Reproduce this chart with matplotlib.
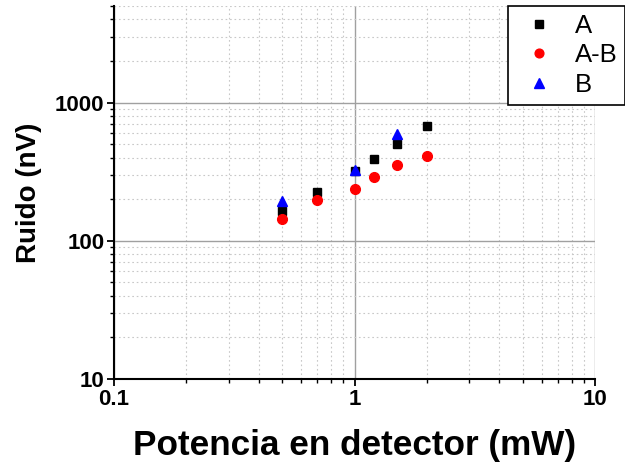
import matplotlib
matplotlib.use("Agg")
import matplotlib.pyplot as plt
from matplotlib.ticker import LogLocator, FixedLocator, FixedFormatter, NullFormatter

plt.rcParams['font.family'] = ['Liberation Sans', 'DejaVu Sans']

# Detector power (mW) and measured noise (nV) for each configuration
power_a = [0.5, 0.7, 1.0, 1.2, 1.5, 2.0]
noise_a = [163, 225, 318, 393, 502, 673]

power_ab = [0.5, 0.7, 1.0, 1.2, 1.5, 2.0]
noise_ab = [144, 198, 237, 291, 354, 413]

power_b = [0.5, 1.0, 1.5]
noise_b = [195, 323, 593]

x_ticks = [0.1, 1, 10]
x_ticklabels = ["0.1", "1", "10"]
y_ticks = [10, 100, 1000]
y_ticklabels = ["10", "100", "1000"]

fig = plt.figure(figsize=(6.25, 4.65), dpi=100)
ax = fig.add_axes([114 / 625, 1 - 379 / 465, (595 - 114) / 625, (379 - 6) / 465])

ax.set_xscale('log')
ax.set_yscale('log')
ax.set_xlim(0.1, 10)
ax.set_ylim(10, 5000)

ax.plot(power_a, noise_a, linestyle='none', marker='s', color='black',
        markersize=6, label='A', zorder=3)
ax.plot(power_ab, noise_ab, linestyle='none', marker='o', color='#ff0000',
        markersize=7, label='A-B', zorder=3)
ax.plot(power_b, noise_b, linestyle='none', marker='^', color='#0000ff',
        markersize=7.5, label='B', zorder=3)

ax.xaxis.set_major_locator(FixedLocator(x_ticks))
ax.xaxis.set_major_formatter(FixedFormatter(x_ticklabels))
ax.yaxis.set_major_locator(FixedLocator(y_ticks))
ax.yaxis.set_major_formatter(FixedFormatter(y_ticklabels))
ax.xaxis.set_minor_locator(LogLocator(base=10, subs=range(2, 10), numticks=20))
ax.yaxis.set_minor_locator(LogLocator(base=10, subs=range(2, 10), numticks=20))
ax.xaxis.set_minor_formatter(NullFormatter())
ax.yaxis.set_minor_formatter(NullFormatter())

ax.grid(which='major', color='#a0a0a0', linestyle='-', linewidth=1.0, zorder=1)
ax.grid(which='minor', color='#c8c8c8', linestyle=(0, (1.5, 2.5)), linewidth=0.8, zorder=1)
ax.set_axisbelow(True)

for side in ('top', 'right'):
    ax.spines[side].set_visible(False)
for side in ('left', 'bottom'):
    ax.spines[side].set_linewidth(1.5)
    ax.spines[side].set_color('black')

ax.tick_params(which='major', direction='out', length=5, width=1.3, labelsize=16, pad=2)
ax.tick_params(which='minor', direction='out', length=3, width=1.0)
for lbl in ax.get_xticklabels() + ax.get_yticklabels():
    lbl.set_fontweight('bold')

ax.set_xlabel('Potencia en detector (mW)', fontsize=25.3, fontweight='bold', labelpad=14)
ax.set_ylabel('Ruido (nV)', fontsize=20, fontweight='bold', labelpad=9)

leg = ax.legend(loc='upper left', bbox_to_anchor=(508 / 625, 1 - 6 / 465),
                bbox_transform=fig.transFigure, fontsize=18.5, frameon=True,
                fancybox=False, edgecolor='black', framealpha=1,
                handlelength=1.8, handletextpad=0.5, borderpad=0.3,
                labelspacing=0.22, borderaxespad=0, markerscale=0.9)
leg.get_frame().set_linewidth(1.2)

fig.savefig('out.png', dpi=100)
